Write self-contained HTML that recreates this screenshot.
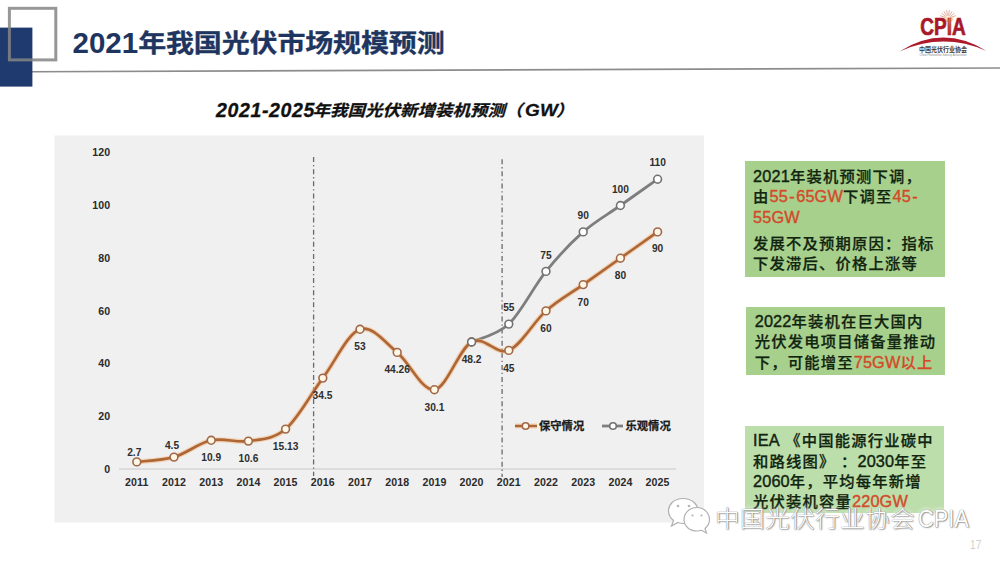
<!DOCTYPE html>
<html><head><meta charset="utf-8"><style>
*{margin:0;padding:0;box-sizing:border-box}
html,body{width:1000px;height:562px;overflow:hidden;background:#ffffff}
body{position:relative;font-family:"Liberation Sans","Noto Sans CJK SC",sans-serif}
svg{position:absolute;left:0;top:0}
.ax{font-family:"Liberation Sans","Noto Sans CJK SC",sans-serif;font-weight:bold;font-size:10.6px;letter-spacing:0.1px;fill:#2b2b2b}
.dl{font-family:"Liberation Sans","Noto Sans CJK SC",sans-serif;font-weight:bold;font-size:10.2px;fill:#2e2e2e}
.lg{font-family:"Liberation Sans","Noto Sans CJK SC",sans-serif;font-weight:bold;font-size:11.3px;fill:#1a1a1a;stroke:#1a1a1a;stroke-width:0.25px}
.cpia{font-family:"Liberation Sans",sans-serif;font-weight:bold;font-size:24px;fill:#a8182a;stroke:#a8182a;stroke-width:0.7px}
.cpiacn{font-family:"Noto Sans CJK SC",sans-serif;font-weight:bold;font-size:6.4px;fill:#3a3a3a}
.cpiaen{font-family:"Liberation Sans",sans-serif;font-size:3px;fill:#8a8a8a}
#title{position:absolute;left:72.5px;top:22px;font-size:28px;font-weight:bold;color:#1e3560;white-space:nowrap;line-height:40px}
#title .d{font-size:29.5px;display:inline-block;transform:translateY(0.5px)}
#title .c{display:inline-block;transform:scale(1,0.88) translateY(1.5px);letter-spacing:-0.15px;-webkit-text-stroke:0.35px #1e3560}
#ctitle{position:absolute;left:216px;top:97px;font-size:17.5px;font-weight:bold;font-style:italic;color:#111;-webkit-text-stroke:0.3px #111;white-space:nowrap;line-height:26px}
#ctitle .d{font-size:19.5px;display:inline-block;letter-spacing:0.65px}
#ctitle .c{display:inline-block;transform:scale(1,0.9);letter-spacing:0;margin-left:-2.5px}
#ctitle .d2{font-size:19px}
.box{position:absolute;background:#a8d08d;color:#102410;font-size:15.3px;line-height:20.3px;padding:0 0 0 8.5px;font-weight:500;letter-spacing:1.2px;white-space:nowrap;-webkit-text-stroke:0.25px currentColor}
.box p{margin:0;height:20.3px}
.r{color:#d24a2a}
.box .h{margin:0 1.3px}
.box .l{line-height:0;letter-spacing:0.15px;font-size:16.3px;font-weight:normal;-webkit-text-stroke:0.4px currentColor}
#b1{left:744.6px;top:161.4px;width:200.4px;height:115.3px;padding-top:5.6px}
#b2{left:746.2px;top:307px;width:198.6px;height:67.9px;padding-top:5px}
#b3{left:744.5px;top:426.2px;width:199.3px;height:87px;padding-top:5.3px;background:#bcdeaa}
#wm{position:absolute;left:715px;top:502.5px;font-size:24.6px;color:#fff;white-space:nowrap;font-family:"Liberation Sans","Noto Sans CJK SC",sans-serif;font-weight:300;
 text-shadow:0 0 1px #777,0.5px 0.5px 1px #888,1px 1px 1.5px #aaa,0 0 4px rgba(255,255,255,0.9),0 0 7px rgba(255,255,255,0.8);line-height:30px;transform:translateY(0.7px) scaleY(0.94);transform-origin:0 26.6px}
#pg{position:absolute;left:969.5px;top:536.5px;font-size:13px;line-height:16px;color:#d0d0d0;transform:scaleX(0.78);transform-origin:0 0}
</style></head><body>
<svg width="1000" height="562" viewBox="0 0 1000 562">
<line x1="32" y1="71.7" x2="1000" y2="68" stroke="#8c8c8c" stroke-width="1.6"/>
<rect x="0" y="27.6" width="32.4" height="59" fill="#1f3a6e"/>
<rect x="9.4" y="8.3" width="46.4" height="51.6" fill="none" stroke="#858585" stroke-opacity="0.85" stroke-width="3"/>
<defs><linearGradient id="ig" x1="0" y1="0" x2="0" y2="1"><stop offset="0" stop-color="#f0a040"/><stop offset="0.45" stop-color="#d04a2a"/><stop offset="1" stop-color="#a8182a"/></linearGradient><radialGradient id="sun" cx="0.5" cy="1" r="0.9"><stop offset="0" stop-color="#f6b060"/><stop offset="1" stop-color="#f6b060" stop-opacity="0"/></radialGradient></defs>
<g stroke="#d89a8a" stroke-width="0.9" opacity="0.85"><line x1="945.2" y1="17.5" x2="940.0" y2="15.6"/><line x1="945.7" y1="16.6" x2="941.5" y2="13.1"/><line x1="946.5" y1="15.9" x2="943.8" y2="11.1"/><line x1="947.5" y1="15.6" x2="946.6" y2="10.2"/><line x1="948.5" y1="15.6" x2="949.4" y2="10.2"/><line x1="949.5" y1="15.9" x2="952.2" y2="11.1"/><line x1="950.3" y1="16.6" x2="954.5" y2="13.1"/><line x1="950.8" y1="17.5" x2="956.0" y2="15.6"/></g>
<ellipse cx="948" cy="18" rx="6" ry="4" fill="url(#sun)"/>
<text x="920.3" y="35.2" class="cpia" textLength="45.5" lengthAdjust="spacingAndGlyphs">CP<tspan fill="url(#ig)">I</tspan>A</text>
<path d="M899.5,51.5 Q943,24 986.5,51 Q943,32 899.5,51.5 Z" fill="#ad1a2c"/>
<text x="943" y="52.3" class="cpiacn" text-anchor="middle" textLength="48" lengthAdjust="spacingAndGlyphs">中国光伏行业协会</text>
<text x="943" y="55.8" class="cpiaen" text-anchor="middle" textLength="47" lengthAdjust="spacingAndGlyphs">China Photovoltaic Industry Association</text>
<rect x="54.5" y="135.5" width="649.5" height="387" fill="#f0f0f0"/>
<line x1="119" y1="469" x2="676" y2="469" stroke="#d6d6d6" stroke-width="1.3"/>
<line x1="313.6" y1="157.1" x2="313.6" y2="476.0" stroke="#6a6a6a" stroke-width="1.3" stroke-dasharray="5 2.9 1.3 2.9"/>
<line x1="502.1" y1="159.2" x2="502.1" y2="477.0" stroke="#6a6a6a" stroke-width="1.3" stroke-dasharray="5 2.9 1.3 2.9"/>
<text x="110.3" y="472.6" class="ax" text-anchor="end">0</text>
<text x="110.3" y="419.9" class="ax" text-anchor="end">20</text>
<text x="110.3" y="367.2" class="ax" text-anchor="end">40</text>
<text x="110.3" y="314.5" class="ax" text-anchor="end">60</text>
<text x="110.3" y="261.8" class="ax" text-anchor="end">80</text>
<text x="110.3" y="209.1" class="ax" text-anchor="end">100</text>
<text x="110.3" y="156.4" class="ax" text-anchor="end">120</text>
<text x="136.8" y="486" class="ax" text-anchor="middle">2011</text>
<text x="174.0" y="486" class="ax" text-anchor="middle">2012</text>
<text x="211.2" y="486" class="ax" text-anchor="middle">2013</text>
<text x="248.4" y="486" class="ax" text-anchor="middle">2014</text>
<text x="285.6" y="486" class="ax" text-anchor="middle">2015</text>
<text x="322.8" y="486" class="ax" text-anchor="middle">2016</text>
<text x="360.0" y="486" class="ax" text-anchor="middle">2017</text>
<text x="397.2" y="486" class="ax" text-anchor="middle">2018</text>
<text x="434.4" y="486" class="ax" text-anchor="middle">2019</text>
<text x="471.6" y="486" class="ax" text-anchor="middle">2020</text>
<text x="508.8" y="486" class="ax" text-anchor="middle">2021</text>
<text x="546.0" y="486" class="ax" text-anchor="middle">2022</text>
<text x="583.2" y="486" class="ax" text-anchor="middle">2023</text>
<text x="620.4" y="486" class="ax" text-anchor="middle">2024</text>
<text x="657.6" y="486" class="ax" text-anchor="middle">2025</text>
<path d="M471.6,342.0 C477.8,339.0 496.4,335.8 508.8,324.1 C521.2,312.3 533.6,286.7 546.0,271.4 C558.4,256.0 570.8,242.8 583.2,231.9 C595.6,220.9 608.0,214.3 620.4,205.5 C632.8,196.7 651.4,183.5 657.6,179.2" fill="none" stroke="#7e7e7e" stroke-width="2.8" stroke-linejoin="round" stroke-linecap="round"/>
<path d="M136.8,461.9 C143.0,461.1 161.6,460.7 174.0,457.1 C186.4,453.5 198.8,443.0 211.2,440.3 C223.6,437.6 236.0,442.9 248.4,441.1 C260.8,439.2 273.2,439.6 285.6,429.1 C298.0,418.6 310.4,394.7 322.8,378.1 C335.2,361.5 347.6,333.6 360.0,329.3 C372.4,325.1 384.8,342.3 397.2,352.4 C409.6,362.4 422.0,391.4 434.4,389.7 C446.8,388.0 459.2,348.5 471.6,342.0 C484.0,335.4 496.4,355.6 508.8,350.4 C521.2,345.2 533.6,321.9 546.0,310.9 C558.4,299.9 570.8,293.3 583.2,284.6 C595.6,275.8 608.0,267.0 620.4,258.2 C632.8,249.4 651.4,236.2 657.6,231.9" fill="none" stroke="#f4bc8a" stroke-width="5" stroke-linejoin="round" stroke-linecap="round" opacity="0.6"/>
<path d="M136.8,461.9 C143.0,461.1 161.6,460.7 174.0,457.1 C186.4,453.5 198.8,443.0 211.2,440.3 C223.6,437.6 236.0,442.9 248.4,441.1 C260.8,439.2 273.2,439.6 285.6,429.1 C298.0,418.6 310.4,394.7 322.8,378.1 C335.2,361.5 347.6,333.6 360.0,329.3 C372.4,325.1 384.8,342.3 397.2,352.4 C409.6,362.4 422.0,391.4 434.4,389.7 C446.8,388.0 459.2,348.5 471.6,342.0 C484.0,335.4 496.4,355.6 508.8,350.4 C521.2,345.2 533.6,321.9 546.0,310.9 C558.4,299.9 570.8,293.3 583.2,284.6 C595.6,275.8 608.0,267.0 620.4,258.2 C632.8,249.4 651.4,236.2 657.6,231.9" fill="none" stroke="#ad6636" stroke-width="2.6" stroke-linejoin="round" stroke-linecap="round"/>
<circle cx="136.8" cy="461.9" r="3.9" fill="#fff6e4" stroke="#a0684a" stroke-width="1.6"/>
<circle cx="174.0" cy="457.1" r="3.9" fill="#fff6e4" stroke="#a0684a" stroke-width="1.6"/>
<circle cx="211.2" cy="440.3" r="3.9" fill="#fff6e4" stroke="#a0684a" stroke-width="1.6"/>
<circle cx="248.4" cy="441.1" r="3.9" fill="#fff6e4" stroke="#a0684a" stroke-width="1.6"/>
<circle cx="285.6" cy="429.1" r="3.9" fill="#fff6e4" stroke="#a0684a" stroke-width="1.6"/>
<circle cx="322.8" cy="378.1" r="3.9" fill="#fff6e4" stroke="#a0684a" stroke-width="1.6"/>
<circle cx="360.0" cy="329.3" r="3.9" fill="#fff6e4" stroke="#a0684a" stroke-width="1.6"/>
<circle cx="397.2" cy="352.4" r="3.9" fill="#fff6e4" stroke="#a0684a" stroke-width="1.6"/>
<circle cx="434.4" cy="389.7" r="3.9" fill="#fff6e4" stroke="#a0684a" stroke-width="1.6"/>
<circle cx="471.6" cy="342.0" r="3.9" fill="#fff6e4" stroke="#a0684a" stroke-width="1.6"/>
<circle cx="508.8" cy="350.4" r="3.9" fill="#fff6e4" stroke="#a0684a" stroke-width="1.6"/>
<circle cx="546.0" cy="310.9" r="3.9" fill="#fff6e4" stroke="#a0684a" stroke-width="1.6"/>
<circle cx="583.2" cy="284.6" r="3.9" fill="#fff6e4" stroke="#a0684a" stroke-width="1.6"/>
<circle cx="620.4" cy="258.2" r="3.9" fill="#fff6e4" stroke="#a0684a" stroke-width="1.6"/>
<circle cx="657.6" cy="231.9" r="3.9" fill="#fff6e4" stroke="#a0684a" stroke-width="1.6"/>
<circle cx="471.6" cy="342.0" r="3.9" fill="#ffffff" stroke="#727272" stroke-width="1.6"/>
<circle cx="508.8" cy="324.1" r="3.9" fill="#ffffff" stroke="#727272" stroke-width="1.6"/>
<circle cx="546.0" cy="271.4" r="3.9" fill="#ffffff" stroke="#727272" stroke-width="1.6"/>
<circle cx="583.2" cy="231.9" r="3.9" fill="#ffffff" stroke="#727272" stroke-width="1.6"/>
<circle cx="620.4" cy="205.5" r="3.9" fill="#ffffff" stroke="#727272" stroke-width="1.6"/>
<circle cx="657.6" cy="179.2" r="3.9" fill="#ffffff" stroke="#727272" stroke-width="1.6"/>
<text x="134.3" y="455.5" class="dl" text-anchor="middle">2.7</text>
<text x="172.0" y="448.7" class="dl" text-anchor="middle">4.5</text>
<text x="211.2" y="460.9" class="dl" text-anchor="middle">10.9</text>
<text x="248.4" y="461.7" class="dl" text-anchor="middle">10.6</text>
<text x="285.6" y="449.5" class="dl" text-anchor="middle">15.13</text>
<text x="322.5" y="399.2" class="dl" text-anchor="middle">34.5</text>
<text x="360.0" y="350.4" class="dl" text-anchor="middle">53</text>
<text x="397.2" y="373.0" class="dl" text-anchor="middle">44.26</text>
<text x="434.4" y="410.5" class="dl" text-anchor="middle">30.1</text>
<text x="471.6" y="362.8" class="dl" text-anchor="middle">48.2</text>
<text x="508.8" y="371.5" class="dl" text-anchor="middle">45</text>
<text x="546.0" y="331.8" class="dl" text-anchor="middle">60</text>
<text x="583.2" y="305.7" class="dl" text-anchor="middle">70</text>
<text x="620.4" y="279.1" class="dl" text-anchor="middle">80</text>
<text x="657.6" y="252.3" class="dl" text-anchor="middle">90</text>
<text x="508.8" y="311.2" class="dl" text-anchor="middle">55</text>
<text x="546.0" y="258.5" class="dl" text-anchor="middle">75</text>
<text x="583.2" y="219.0" class="dl" text-anchor="middle">90</text>
<text x="620.4" y="192.5" class="dl" text-anchor="middle">100</text>
<text x="657.6" y="166.3" class="dl" text-anchor="middle">110</text>
<line x1="515" y1="426" x2="537" y2="426" stroke="#f4bc8a" stroke-width="5" opacity="0.6"/>
<line x1="515" y1="426" x2="537" y2="426" stroke="#ad6636" stroke-width="2.4"/>
<circle cx="525.6" cy="426" r="3.3" fill="#fff6e4" stroke="#a0684a" stroke-width="1.6"/>
<text x="539" y="430" class="lg">保守情况</text>
<line x1="602" y1="426" x2="623" y2="426" stroke="#7e7e7e" stroke-width="2.8"/>
<circle cx="613" cy="426" r="3.3" fill="#ffffff" stroke="#727272" stroke-width="1.6"/>
<text x="625.5" y="430" class="lg">乐观情况</text>
</svg>
<div id="title"><span class="d">2021</span><span class="c">年我国光伏市场规模预测</span></div>
<div id="ctitle"><span class="d">2021-2025</span><span class="c">年我国光伏新增装机预测<span style="margin-right:2.5px">（</span><span class="d2">GW</span><span style="margin-left:-1.5px">）</span></span></div>
<div class="box" id="b1"><p><span class="l">2021</span>年装机预测下调，</p><p>由<span class="r"><span class="l">55<span class="h">-</span>65GW</span></span>下调至<span class="r"><span class="l">45<span class="h">-</span></span></span></p><p><span class="r"><span class="l">55GW</span></span></p><p style="margin-top:5.9px">发展不及预期原因：指标</p><p>下发滞后、价格上涨等</p></div>
<div class="box" id="b2"><p><span class="l">2022</span>年装机在巨大国内</p><p>光伏发电项目储备量推动</p><p>下，可能增至<span class="r"><span class="l">75GW</span>以上</span></p></div>
<div class="box" id="b3"><p><span class="l">IEA</span> 《中国能源行业碳中</p><p>和路线图》 ：<span class="l">2030</span>年至</p><p><span class="l">2060</span>年，平均每年新增</p><p>光伏装机容量<span class="r"><span class="l">220GW</span></span></p></div>
<svg width="1000" height="562" viewBox="0 0 1000 562" style="pointer-events:none"><g fill="#ffffff" stroke="#b0b0b0" stroke-width="1.2"><path d="M683,498.5 C674,498.5 668.5,504.5 668.5,511 C668.5,515 670.5,518 673.5,520.5 L671.5,526 L678,522.5 C680,523.2 681.5,523.5 683.5,523.5 C692,523.5 698,517.5 698,511 C698,504.5 692,498.5 683,498.5 Z"/><path d="M697,507.5 C689.5,507.5 684,513 684,519.5 C684,526 689.5,531 697,531 C698.5,531 700,530.8 701.5,530.3 L706.5,533 L705,528.5 C707.8,526.3 709.5,523 709.5,519.5 C709.5,513 704,507.5 697,507.5 Z"/></g><g fill="#b5b5b5"><circle cx="678" cy="506" r="1.3"/><circle cx="689" cy="506" r="1.3"/><circle cx="692.5" cy="515.5" r="1.1"/><circle cx="701.5" cy="515.5" r="1.1"/></g></svg>
<div id="wm"><span style="letter-spacing:0.4px">中国光伏行业协会</span><span style="display:inline-block;transform:scaleX(0.885);transform-origin:0 0;margin-left:2.9px">CPIA</span></div>
<div id="pg">17</div>
</body></html>
